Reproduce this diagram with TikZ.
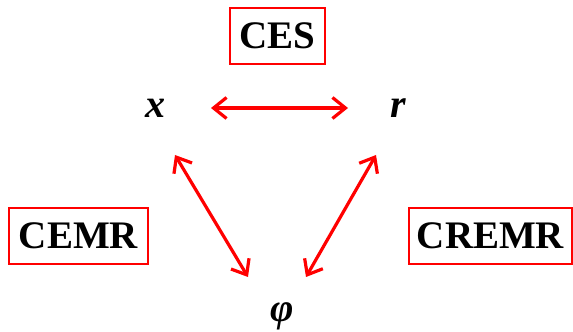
\documentclass[tikz,border=0pt]{standalone}
\usepackage{fontspec}
\setmainfont{Liberation Serif}
\usetikzlibrary{arrows.meta}
\definecolor{linkred}{RGB}{255, 0, 0}
\tikzset{
  >=Stealth,
  biarrow/.style={{Straight Barb[length=13pt, width=21pt]}-{Straight Barb[length=13pt, width=21pt]}, line width=3.2pt, linkred}
}
\begin{document}
\begin{tikzpicture}[x=1pt, y=1pt,
    boxlabel/.style={rectangle, draw=linkred, line width=1.5pt, font=\fontsize{39}{44}\selectfont\bfseries, text height=26pt, text depth=0pt, minimum height=56pt, inner xsep=0pt},
    varnode/.style={font=\fontsize{40}{44}\selectfont\bfseries\itshape, anchor=base, inner sep=0pt}
]
    \useasboundingbox (0, 0) rectangle (573, 332);

    % Relation labels
    \node[boxlabel, minimum width=95pt] (ces) at (277.5, 296) {CES};
    \node[boxlabel, minimum width=139pt] (cemr) at (78.5, 96) {CEMR};
    \node[boxlabel, minimum width=163pt] (cremr) at (490.5, 96) {CREMR};

    % Variables
    \node[varnode] (x) at (155, 214) {x};
    \node[varnode] (r) at (398, 214) {r};
    \node[varnode] (phi) at (282, 10) {φ};

    % Links between the variables
    \draw[biarrow] ([shift={(56, 10)}]x.base) -- ([shift={(-50, 10)}]r.base);
    \draw[biarrow] ([shift={(20, -37)}]x.base) -- ([shift={(-34, 45)}]phi.base);
    \draw[biarrow] ([shift={(-22, -37)}]r.base) -- ([shift={(24, 45)}]phi.base);
\end{tikzpicture}
\end{document}
